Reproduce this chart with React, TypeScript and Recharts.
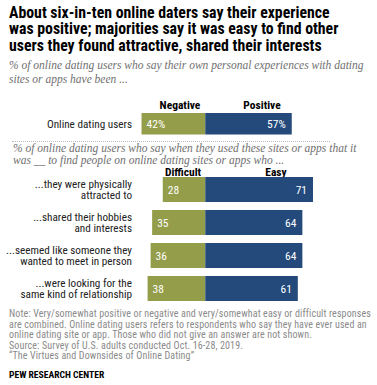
import React from "react"
import { BarChart, Bar, XAxis, YAxis, LabelList } from "recharts"

const OLIVE = "#949d4a"
const NAVY = "#234a7b"
const NARROW = "'Liberation Sans Narrow', 'Roboto Condensed', 'Liberation Sans', sans-serif"
const SERIF = "'Liberation Serif', serif"

// top panel: overall experience
const overallCategories = ["Online dating users"]
const overallNegative = [42]
const overallPositive = [57]

// bottom panel: easy / difficult to find people who ...
const findCategories = [
  "...they were physically\nattracted to",
  "...shared their hobbies\nand interests",
  "...seemed like someone they\nwanted to meet in person",
  "...were looking for the\nsame kind of relationship",
]
const findDifficult = [28, 35, 36, 38]
const findEasy = [71, 64, 64, 61]

const overallData = overallCategories.map((name, i) => ({
  name,
  negative: -overallNegative[i],
  positive: overallPositive[i],
}))

const findData = findCategories.map((name, i) => ({
  name,
  difficult: -findDifficult[i],
  easy: findEasy[i],
}))

function CategoryTick(props: any) {
  const { x, y, payload } = props
  const lines = String(payload.value).split("\n")
  const lh = 11.5
  const start = -((lines.length - 1) * lh) / 2
  return (
    <text x={x} y={y} textAnchor="end" fill="#222" fontFamily={NARROW} fontSize={11.2}>
      {lines.map((l, i) => (
        <tspan key={i} x={x} y={y + start + i * lh} dy="0.35em">
          {l}
        </tspan>
      ))}
    </text>
  )
}

const leftLabel = (suffix: string) => (props: any) => {
  const { x, y, width, height, value } = props
  const left = Math.min(x, x + width)
  return (
    <text x={left + 5} y={y + height / 2} dy="0.35em" fill="#fff" fontFamily={NARROW} fontSize={11.5}>
      {Math.abs(value)}
      {suffix}
    </text>
  )
}

const rightLabel = (suffix: string) => (props: any) => {
  const { x, y, width, height, value } = props
  const right = Math.max(x, x + width)
  return (
    <text x={right - 6} y={y + height / 2} dy="0.35em" textAnchor="end" fill="#fff" fontFamily={NARROW} fontSize={11.5}>
      {Math.abs(value)}
      {suffix}
    </text>
  )
}

const abs: React.CSSProperties = { position: "absolute", margin: 0, whiteSpace: "nowrap" }
const header: React.CSSProperties = { ...abs, width: 80, textAlign: "center", fontFamily: NARROW, fontWeight: 700, fontSize: 11.5, color: "#000" }

export default function App() {
  return (
    <div style={{ position: "absolute", left: 0, top: 0, width: 377, height: 385, background: "#fff", overflow: "hidden" }}>
      <div style={{ ...abs, left: 9, top: 4.5, fontFamily: NARROW, fontWeight: 700, fontSize: 15.8, lineHeight: "16.6px", color: "#000" }}>
        About six-in-ten online daters say their experience
        <br />
        was positive; majorities say it was easy to find other
        <br />
        users they found attractive, shared their interests
      </div>
      <div style={{ ...abs, left: 9, top: 58, fontFamily: SERIF, fontStyle: "italic", fontSize: 11.5, lineHeight: "14px", color: "#6f6f6f" }}>
        % of online dating users who say their own personal experiences with dating
        <br />
        sites or apps have been ...
      </div>

      <div style={{ ...header, left: 140, top: 97.5 }}>Negative</div>
      <div style={{ ...header, left: 222, top: 97.5 }}>Positive</div>

      <div style={{ ...abs, left: 0, top: 100 }}>
        <BarChart layout="vertical" width={377} height={40} data={overallData} stackOffset="sign" margin={{ top: 12, right: 20, bottom: 4, left: 0 }}>
          <XAxis type="number" domain={[-43, 100]} hide />
          <YAxis type="category" dataKey="name" width={140} interval={0} axisLine={false} tickLine={false} tick={<CategoryTick />} />
          <Bar dataKey="negative" stackId="a" fill={OLIVE} barSize={24} isAnimationActive={false}>
            <LabelList dataKey="negative" content={leftLabel("%")} />
          </Bar>
          <Bar dataKey="positive" stackId="a" fill={NAVY} barSize={24} isAnimationActive={false}>
            <LabelList dataKey="positive" content={rightLabel("%")} />
          </Bar>
        </BarChart>
      </div>

      <div style={{ ...abs, left: 12, top: 141, width: 318, borderTop: "1px dotted #bbb" }} />
      <div style={{ ...abs, left: 13, top: 141.5, fontFamily: SERIF, fontStyle: "italic", fontSize: 11.5, lineHeight: "12px", color: "#6f6f6f" }}>
        % of online dating users who say when they used these sites or apps that it
        <br />
        was __ to find people on online dating sites or apps who ...
      </div>

      <div style={{ ...header, left: 143, top: 164.5 }}>Difficult</div>
      <div style={{ ...header, left: 236, top: 164.5 }}>Easy</div>

      <div style={{ ...abs, left: 0, top: 160 }}>
        <BarChart layout="vertical" width={377} height={150} data={findData} stackOffset="sign" margin={{ top: 13, right: 20, bottom: 5, left: 0 }}>
          <XAxis type="number" domain={[-43, 100]} hide />
          <YAxis type="category" dataKey="name" width={140} interval={0} axisLine={false} tickLine={false} tick={<CategoryTick />} />
          <Bar dataKey="difficult" stackId="a" fill={OLIVE} barSize={25} isAnimationActive={false}>
            <LabelList dataKey="difficult" content={leftLabel("")} />
          </Bar>
          <Bar dataKey="easy" stackId="a" fill={NAVY} barSize={25} isAnimationActive={false}>
            <LabelList dataKey="easy" content={rightLabel("")} />
          </Bar>
        </BarChart>
      </div>

      <div style={{ ...abs, left: 9, top: 309, fontFamily: NARROW, fontSize: 10, letterSpacing: 0.12, lineHeight: "10.5px", color: "#8a8a8a" }}>
        Note: Very/somewhat positive or negative and very/somewhat easy or difficult responses
        <br />
        are combined. Online dating users refers to respondents who say they have ever used an
        <br />
        online dating site or app. Those who did not give an answer are not shown.
        <br />
        Source: Survey of U.S. adults conducted Oct. 16-28, 2019.
        <br />
        “The Virtues and Downsides of Online Dating”
      </div>
      <div style={{ ...abs, left: 9, top: 368.5, fontFamily: NARROW, fontWeight: 700, fontSize: 9.6, color: "#000" }}>
        PEW RESEARCH CENTER
      </div>
    </div>
  )
}
